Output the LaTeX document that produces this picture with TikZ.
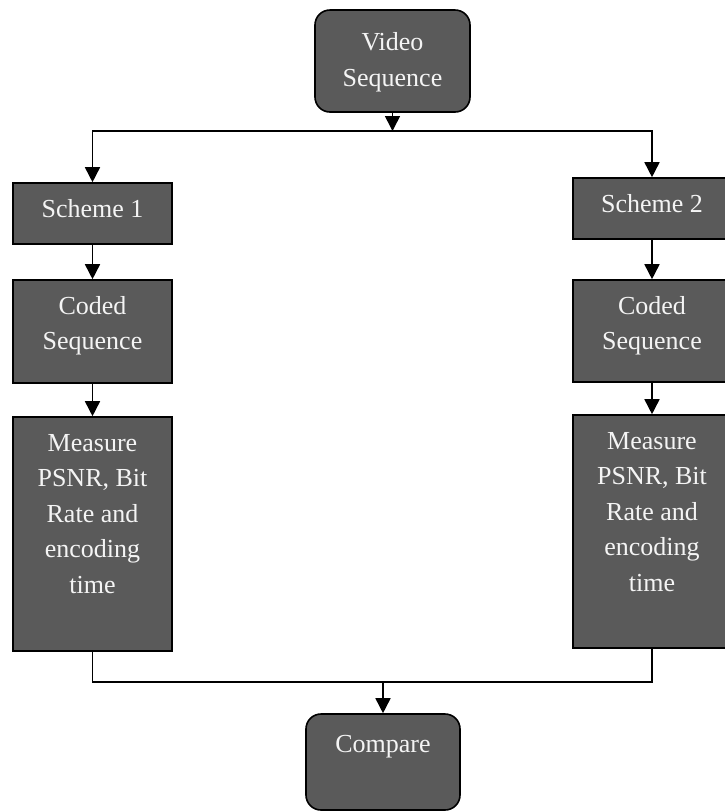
\documentclass[tikz,border=0pt]{standalone}
\usepackage{fontspec}
\setmainfont{Liberation Serif}
\usetikzlibrary{arrows.meta}
\definecolor{boxfill}{HTML}{5A5A5A}
\definecolor{boxtext}{HTML}{F4F4F4}
\tikzset{
  blockbox/.style={draw=black, line width=1.6pt, fill=boxfill, inner sep=0pt},
  roundbox/.style={blockbox, rounded corners=15pt},
  boxlabel/.style={anchor=base, inner sep=0pt, text=boxtext,
    font=\fontsize{26}{35.5}\selectfont},
  link/.style={draw=black, line width=1.6pt},
  arr/.style={link, -{Triangle[width=15pt,length=15pt]}},
}
\newcommand{\blocktext}[1]{\parbox[t]{150pt}{\centering #1}}
\begin{document}
\begin{tikzpicture}[x=1pt,y=-1pt]
  \useasboundingbox (0,0) rectangle (725,812);

  % boxes
  \node[roundbox, minimum width=155pt, minimum height=102pt] (video) at (392.5,61) {};
  \node[blockbox, minimum width=159pt, minimum height=61pt]  (s1) at (92.5,213.5) {};
  \node[blockbox, minimum width=158pt, minimum height=61pt]  (s2) at (652,208.5) {};
  \node[blockbox, minimum width=159pt, minimum height=103pt] (c1) at (92.5,331.5) {};
  \node[blockbox, minimum width=158pt, minimum height=102pt] (c2) at (652,331) {};
  \node[blockbox, minimum width=159pt, minimum height=234pt] (m1) at (92.5,534) {};
  \node[blockbox, minimum width=158pt, minimum height=233pt] (m2) at (652,531.5) {};
  \node[roundbox, minimum width=154pt, minimum height=96pt]  (cmp) at (383,762) {};

  % box captions (first baseline set below each box top)
  \node[boxlabel] (video-t) at ([yshift=-41.5pt]video.north) {\blocktext{Video\\Sequence}};
  \node[boxlabel] (s1-t) at ([yshift=-35.5pt]s1.north) {\blocktext{Scheme 1}};
  \node[boxlabel] (s2-t) at ([yshift=-35pt]s2.north) {\blocktext{Scheme 2}};
  \node[boxlabel] (c1-t) at ([yshift=-35pt]c1.north) {\blocktext{Coded\\Sequence}};
  \node[boxlabel] (c2-t) at ([yshift=-35pt]c2.north) {\blocktext{Coded\\Sequence}};
  \node[boxlabel] (m1-t) at ([yshift=-35pt]m1.north) {\blocktext{Measure\\PSNR, Bit\\Rate and\\encoding\\time}};
  \node[boxlabel] (m2-t) at ([yshift=-35pt]m2.north) {\blocktext{Measure\\PSNR, Bit\\Rate and\\encoding\\time}};
  \node[boxlabel] (cmp-t) at ([yshift=-39pt]cmp.north) {\blocktext{Compare}};

  % branch points
  \coordinate (split) at (392.5,131);
  \coordinate (join) at (383,682);

  % connectors
  \draw[arr] (video.south) -- (split);
  \draw[arr] (split) -| (s1.north);
  \draw[arr] (split) -| (s2.north);
  \draw[arr] (s1) -- (c1);
  \draw[arr] (s2) -- (c2);
  \draw[arr] (c1) -- (m1);
  \draw[arr] (c2) -- (m2);
  \draw[link] (m1.south) |- (join) -| (m2.south);
  \draw[arr] (join) -- (cmp.north);
\end{tikzpicture}
\end{document}
